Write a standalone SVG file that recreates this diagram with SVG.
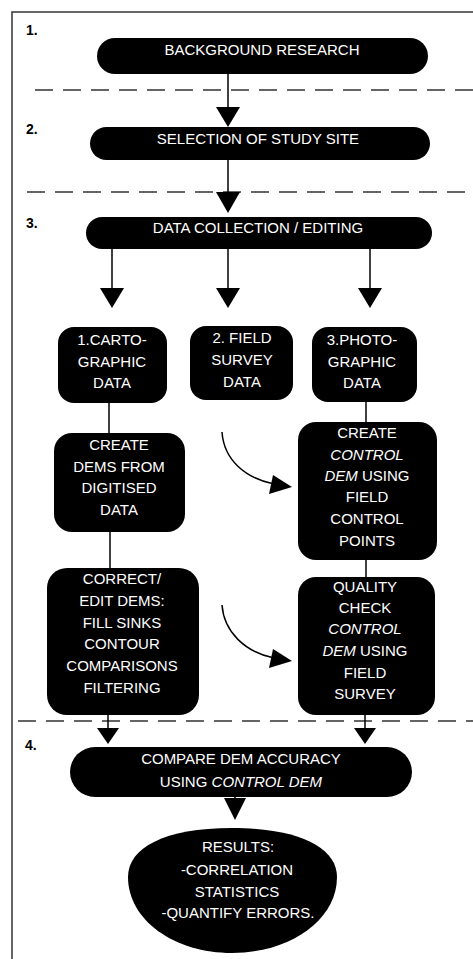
<svg xmlns="http://www.w3.org/2000/svg" width="473" height="959" viewBox="0 0 473 959">
<defs>
<style>
.bg{fill:#fff}
.frame{stroke:#333;stroke-width:1.5;fill:none}
.dash{stroke:#333;stroke-width:1.5;stroke-dasharray:18 10;fill:none}
.node{fill:#000}
.t{fill:#fff;font-family:"Liberation Sans",Arial,sans-serif;font-size:15px;text-anchor:middle}
.i{font-style:italic}
.num{fill:#000;font-family:"Liberation Sans",Arial,sans-serif;font-size:14px;font-weight:bold}
.line{stroke:#000;stroke-width:1.5;fill:none}
.head{fill:#000}
</style>
</defs>
<rect class="bg" x="0" y="0" width="473" height="959"/>
<g id="frame">
<path class="frame" d="M12,959 V12 H473"/>
<line class="dash" x1="35" y1="90" x2="473" y2="90"/>
<line class="dash" x1="27" y1="192" x2="473" y2="192"/>
<line class="dash" x1="18" y1="721" x2="473" y2="721"/>
<text class="num" x="26" y="35">1.</text>
<text class="num" x="26" y="134">2.</text>
<text class="num" x="26" y="228">3.</text>
<text class="num" x="25" y="750">4.</text>
</g>
<g id="connectors">
<line class="line" x1="228" y1="74" x2="228" y2="110"/>
<polygon class="head" points="216,107 240,107 228,127"/>
<line class="line" x1="228" y1="160" x2="228" y2="195"/>
<polygon class="head" points="216,192 240,192 228,213"/>
<line class="line" x1="112" y1="249" x2="112" y2="290"/>
<polygon class="head" points="100,288 124,288 112,308"/>
<line class="line" x1="228" y1="249" x2="228" y2="290"/>
<polygon class="head" points="216,288 240,288 228,308"/>
<line class="line" x1="370" y1="249" x2="370" y2="290"/>
<polygon class="head" points="358,288 382,288 370,308"/>
<line class="line" x1="109" y1="403" x2="109" y2="433"/>
<line class="line" x1="366" y1="402" x2="366" y2="422"/>
<line class="line" x1="110" y1="532" x2="110" y2="568"/>
<line class="line" x1="366" y1="560" x2="366" y2="577"/>
<path class="line" d="M222,432 C224,460 245,478 274,484"/>
<polygon class="head" points="292,487 273,475 269,494"/>
<path class="line" d="M222,605 C224,632 245,652 274,658"/>
<polygon class="head" points="292,661 273,649 269,668"/>
<line class="line" x1="108" y1="715" x2="108" y2="730"/>
<polygon class="head" points="97,728 119,728 108,744"/>
<line class="line" x1="365" y1="715" x2="365" y2="730"/>
<polygon class="head" points="354,728 376,728 365,744"/>
<line class="line" x1="235" y1="797" x2="235" y2="800"/>
<polygon class="head" points="224,798 246,798 235,820"/>
</g>
<g id="n1">
<rect class="node" x="97" y="38" width="331" height="36" rx="18"/>
<text class="t" x="262" y="55">BACKGROUND RESEARCH</text>
</g>
<g id="n2">
<rect class="node" x="90" y="127" width="340" height="33" rx="16.5"/>
<text class="t" x="258" y="144">SELECTION OF STUDY SITE</text>
</g>
<g id="n3">
<rect class="node" x="86" y="217" width="346" height="32" rx="16"/>
<text class="t" x="258" y="233">DATA COLLECTION / EDITING</text>
</g>
<g id="n4">
<rect class="node" x="58" y="327" width="109" height="76" rx="16"/>
<text class="t" x="112" y="345">1.CARTO-</text>
<text class="t" x="112" y="367">GRAPHIC</text>
<text class="t" x="112" y="388">DATA</text>
</g>
<g id="n5">
<rect class="node" x="190" y="326" width="103" height="74" rx="16"/>
<text class="t" x="242" y="343">2. FIELD</text>
<text class="t" x="242" y="365">SURVEY</text>
<text class="t" x="242" y="387">DATA</text>
</g>
<g id="n6">
<rect class="node" x="312" y="327" width="105" height="75" rx="16"/>
<text class="t" x="362" y="345">3.PHOTO-</text>
<text class="t" x="362" y="367">GRAPHIC</text>
<text class="t" x="362" y="388">DATA</text>
</g>
<g id="n7">
<rect class="node" x="54" y="433" width="131" height="99" rx="18"/>
<text class="t" x="119" y="450">CREATE</text>
<text class="t" x="119" y="472">DEMS FROM</text>
<text class="t" x="119" y="493">DIGITISED</text>
<text class="t" x="119" y="515">DATA</text>
</g>
<g id="n8">
<rect class="node" x="298" y="422" width="139" height="138" rx="18"/>
<text class="t" x="367" y="438">CREATE</text>
<text class="t i" x="367" y="460">CONTROL</text>
<text class="t" x="367" y="481"><tspan class="i">DEM</tspan> USING</text>
<text class="t" x="367" y="502">FIELD</text>
<text class="t" x="367" y="524">CONTROL</text>
<text class="t" x="367" y="546">POINTS</text>
</g>
<g id="n9">
<rect class="node" x="47" y="568" width="152" height="147" rx="20"/>
<text class="t" x="122" y="584">CORRECT/</text>
<text class="t" x="122" y="606">EDIT DEMS:</text>
<text class="t" x="122" y="628">FILL SINKS</text>
<text class="t" x="122" y="649">CONTOUR</text>
<text class="t" x="122" y="671">COMPARISONS</text>
<text class="t" x="122" y="693">FILTERING</text>
</g>
<g id="n10">
<rect class="node" x="298" y="577" width="137" height="138" rx="18"/>
<text class="t" x="365" y="592">QUALITY</text>
<text class="t" x="365" y="613">CHECK</text>
<text class="t i" x="365" y="634">CONTROL</text>
<text class="t" x="365" y="656"><tspan class="i">DEM</tspan> USING</text>
<text class="t" x="365" y="678">FIELD</text>
<text class="t" x="365" y="699">SURVEY</text>
</g>
<g id="n11">
<rect class="node" x="70" y="747" width="342" height="50" rx="25"/>
<text class="t" x="241" y="764">COMPARE DEM ACCURACY</text>
<text class="t" x="241" y="787">USING <tspan class="i">CONTROL DEM</tspan></text>
</g>
<g id="n12">
<path class="node" d="M232,828 C300,828 337,848 337,877 C337,920 290,953 232,953 C174,953 128,920 128,877 C128,848 164,828 232,828 Z"/>
<text class="t" x="238" y="852">RESULTS:</text>
<text class="t" x="237" y="875">-CORRELATION</text>
<text class="t" x="237" y="897">STATISTICS</text>
<text class="t" x="238" y="918">-QUANTIFY ERRORS.</text>
</g>
</svg>
